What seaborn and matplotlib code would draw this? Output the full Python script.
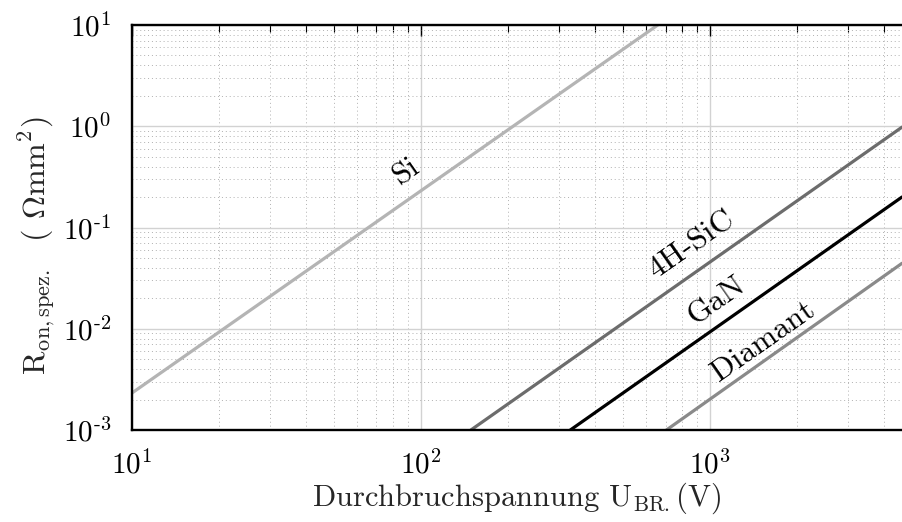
import numpy as np
import pandas as pd
import matplotlib
matplotlib.use("Agg")
import matplotlib.pyplot as plt
from matplotlib.ticker import FixedLocator, FixedFormatter, LogLocator, NullFormatter
import seaborn as sns

# Specific on-resistance vs. breakdown voltage (unipolar limit) per material
materials = ["Si", "4H-SiC", "GaN", "Diamant"]
si_voltage = [10, 658]
si_ron = [2.32e-3, 10.0]
sic_voltage = [148.6, 4600]
sic_ron = [1e-3, 0.98]
gan_voltage = [328, 4600]
gan_ron = [1e-3, 0.20]
dia_voltage = [705, 4600]
dia_ron = [1e-3, 0.0443]

line_colors = ["#b4b4b4", "#6c6c6c", "#000000", "#8a8a8a"]

# label anchor points (voltage, resistance)
label_voltage = [89, 860, 1050, 1520]
label_ron = [0.36, 0.068, 0.0190, 0.0075]

x_ticks = [10, 100, 1000]
x_tick_labels = [r"$10^{1}$", r"$10^{2}$", r"$10^{3}$"]
y_ticks = [1e-3, 1e-2, 1e-1, 1e0, 1e1]
y_tick_labels = [r"$10^{\text{-}3}$", r"$10^{\text{-}2}$", r"$10^{\text{-}1}$",
                 r"$10^{0}$", r"$10^{1}$"]

x_limits = (10, 4600)
y_limits = (1e-3, 10)

frames = []
for name, v, r in zip(materials,
                      [si_voltage, sic_voltage, gan_voltage, dia_voltage],
                      [si_ron, sic_ron, gan_ron, dia_ron]):
    frames.append(pd.DataFrame({"U_BR": v, "R_on": r, "Material": name}))
df = pd.concat(frames, ignore_index=True)

sns.set_theme(style="white")
plt.rcParams["font.family"] = ["serif"]
plt.rcParams["font.serif"] = ["cmr10"]
plt.rcParams["mathtext.fontset"] = "cm"
plt.rcParams["axes.unicode_minus"] = False
plt.rcParams["axes.formatter.use_mathtext"] = True

fs_xlabel = 22
fs_ylabel = 23
fs_tick = 21
fs_text = 22.5
fig = plt.figure(figsize=(9.02, 5.22), dpi=100)
ax = fig.add_axes([132 / 902, 92 / 522, 770 / 902, 405 / 522])

sns.lineplot(data=df, x="U_BR", y="R_on", hue="Material", palette=line_colors,
             hue_order=materials, linewidth=2.3, legend=False, ax=ax,
             estimator=None, sort=False)

ax.set_xscale("log")
ax.set_yscale("log")
ax.set_xlim(*x_limits)
ax.set_ylim(*y_limits)

ax.xaxis.set_major_locator(FixedLocator(x_ticks))
ax.xaxis.set_major_formatter(FixedFormatter(x_tick_labels))
ax.yaxis.set_major_locator(FixedLocator(y_ticks))
ax.yaxis.set_major_formatter(FixedFormatter(y_tick_labels))
ax.xaxis.set_minor_locator(LogLocator(base=10, subs=np.arange(2, 10), numticks=20))
ax.yaxis.set_minor_locator(LogLocator(base=10, subs=np.arange(2, 10), numticks=20))
ax.xaxis.set_minor_formatter(NullFormatter())
ax.yaxis.set_minor_formatter(NullFormatter())

ax.grid(which="major", color="#d2d2d2", linewidth=1.0, linestyle="-")
ax.grid(which="minor", color="#b0b0b0", linewidth=0.7, linestyle=(0, (1, 3)))
ax.set_axisbelow(True)

ax.tick_params(axis="both", which="both", direction="in", top=True, right=False,
               colors="black", labelsize=fs_tick)
ax.tick_params(axis="x", which="major", length=8, width=1.0, pad=15)
ax.tick_params(axis="x", which="minor", length=5, width=0.8)
ax.tick_params(axis="y", which="major", length=7, width=1.0, pad=15)
ax.tick_params(axis="y", which="minor", length=4, width=0.8)

for side in ["left", "top", "bottom"]:
    ax.spines[side].set_visible(True)
    ax.spines[side].set_color("black")
    ax.spines[side].set_linewidth(1.7)
ax.spines["right"].set_visible(False)

ax.set_xlabel(r"Durchbruchspannung U$_{\mathrm{BR.}}$(V)", fontsize=fs_xlabel)
ax.set_ylabel(r"R$_{\mathrm{on,spez.}}$  ( $\Omega$mm$^{2}$)", fontsize=fs_ylabel)
ax.xaxis.set_label_coords(0.5, -0.125)
ax.yaxis.set_label_coords(-0.098, 0.455)

for name, lv, lr in zip(materials, label_voltage, label_ron):
    ax.text(lv, lr, name, fontsize=fs_text, rotation=35, rotation_mode="anchor",
            ha="center", va="center", color="black")

fig.savefig("out.png", dpi=100)
